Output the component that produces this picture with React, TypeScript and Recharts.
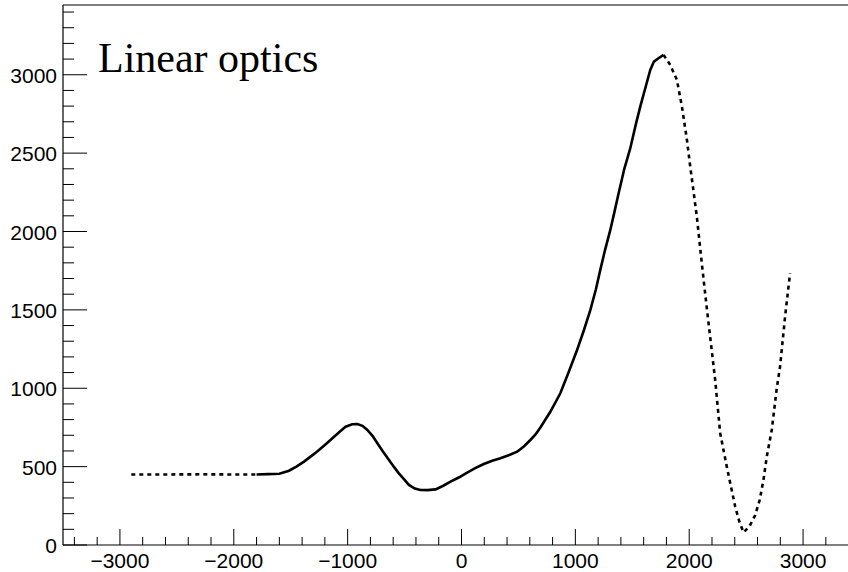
import React from "react";
import { LineChart, Line, XAxis, YAxis } from "recharts";

// curve (x, y)
const leftDotted = [
    { x: -2900, y: 450 },
    { x: -2600, y: 450 },
    { x: -2300, y: 451 },
    { x: -2000, y: 450 },
    { x: -1800, y: 450 },
];

const solidPart = [
    { x: -1800, y: 450 },
    { x: -1700, y: 452 },
    { x: -1600, y: 455 },
    { x: -1515, y: 474 },
    { x: -1450, y: 500 },
    { x: -1383, y: 532 },
    { x: -1300, y: 578 },
    { x: -1252, y: 606 },
    { x: -1190, y: 645 },
    { x: -1134, y: 681 },
    { x: -1070, y: 722 },
    { x: -1018, y: 755 },
    { x: -960, y: 770 },
    { x: -915, y: 772 },
    { x: -870, y: 760 },
    { x: -827, y: 734 },
    { x: -780, y: 695 },
    { x: -739, y: 649 },
    { x: -690, y: 596 },
    { x: -637, y: 542 },
    { x: -590, y: 495 },
    { x: -550, y: 457 },
    { x: -500, y: 415 },
    { x: -462, y: 383 },
    { x: -410, y: 360 },
    { x: -360, y: 351 },
    { x: -300, y: 350 },
    { x: -228, y: 355 },
    { x: -160, y: 378 },
    { x: -96, y: 404 },
    { x: -20, y: 432 },
    { x: 50, y: 461 },
    { x: 120, y: 490 },
    { x: 196, y: 517 },
    { x: 270, y: 537 },
    { x: 342, y: 553 },
    { x: 420, y: 574 },
    { x: 489, y: 595 },
    { x: 550, y: 630 },
    { x: 605, y: 670 },
    { x: 650, y: 705 },
    { x: 693, y: 750 },
    { x: 780, y: 850 },
    { x: 868, y: 968 },
    { x: 940, y: 1100 },
    { x: 1015, y: 1244 },
    { x: 1075, y: 1370 },
    { x: 1132, y: 1500 },
    { x: 1180, y: 1630 },
    { x: 1219, y: 1755 },
    { x: 1260, y: 1880 },
    { x: 1307, y: 2010 },
    { x: 1345, y: 2130 },
    { x: 1380, y: 2244 },
    { x: 1430, y: 2400 },
    { x: 1482, y: 2530 },
    { x: 1530, y: 2680 },
    { x: 1570, y: 2797 },
    { x: 1620, y: 2930 },
    { x: 1658, y: 3031 },
    { x: 1690, y: 3084 },
    { x: 1730, y: 3105 },
    { x: 1775, y: 3127 },
];

const rightDotted = [
    { x: 1775, y: 3127 },
    { x: 1833, y: 3063 },
    { x: 1892, y: 2967 },
    { x: 1936, y: 2797 },
    { x: 1980, y: 2584 },
    { x: 2009, y: 2414 },
    { x: 2067, y: 2095 },
    { x: 2110, y: 1800 },
    { x: 2150, y: 1540 },
    { x: 2190, y: 1290 },
    { x: 2228, y: 1053 },
    { x: 2272, y: 713 },
    { x: 2330, y: 500 },
    { x: 2404, y: 244 },
    { x: 2440, y: 150 },
    { x: 2477, y: 80 },
    { x: 2530, y: 120 },
    { x: 2579, y: 190 },
    { x: 2620, y: 290 },
    { x: 2652, y: 415 },
    { x: 2681, y: 563 },
    { x: 2725, y: 734 },
    { x: 2769, y: 1000 },
    { x: 2798, y: 1138 },
    { x: 2842, y: 1457 },
    { x: 2886, y: 1734 },
];

const xMajorTicks = [-3000, -2000, -1000, 0, 1000, 2000, 3000];
const yMajorTicks = [0, 500, 1000, 1500, 2000, 2500, 3000];

// minor ticks: every 200 on x, every 100 on y
const xTicks: number[] = [];
for (let v = -3400; v <= 3400; v += 200) xTicks.push(v);
const yTicks: number[] = [];
for (let v = 0; v <= 3400; v += 100) yTicks.push(v);

const labelFont = "'Liberation Sans', Arial, Helvetica, sans-serif";

const fmt = (v: number) => (v < 0 ? `\u2212${Math.abs(v)}` : `${v}`);

const XTick = (props: any) => {
    const { x, y, payload } = props;
    const major = xMajorTicks.includes(payload.value);
    return (
        <g>
            <line x1={x} y1={y} x2={x} y2={y - (major ? 16 : 8)} stroke="#000" strokeWidth={1} />
            {major && (
                <text x={x} y={y + 23} textAnchor="middle" fontSize={21} fontFamily={labelFont} fill="#000">
                    {fmt(payload.value)}
                </text>
            )}
        </g>
    );
};

const YTick = (props: any) => {
    const { x, y, payload } = props;
    const major = yMajorTicks.includes(payload.value);
    return (
        <g>
            <line x1={x} y1={y} x2={x + (major ? 24 : 11)} y2={y} stroke="#000" strokeWidth={1} />
            {major && (
                <text x={x - 6} y={y + 8} textAnchor="end" fontSize={21} fontFamily={labelFont} fill="#000">
                    {payload.value}
                </text>
            )}
        </g>
    );
};

export default function App() {
    return (
        <div
            style={{
                position: "absolute",
                left: 0,
                top: 0,
                width: 848,
                height: 572,
                overflow: "hidden",
                background: "#fff",
            }}
        >
            <LineChart
                width={900}
                height={572}
                margin={{ top: 4, right: 40, left: 3, bottom: 0 }}
            >
                <XAxis
                    type="number"
                    dataKey="x"
                    domain={[-3500, 3500]}
                    ticks={xTicks}
                    interval={0}
                    allowDataOverflow
                    height={27}
                    tickSize={0}
                    tickMargin={0}
                    tickLine={false}
                    axisLine={{ stroke: "#000", strokeWidth: 1.2 }}
                    tick={<XTick />}
                />
                <XAxis
                    xAxisId="top"
                    orientation="top"
                    type="number"
                    domain={[-3500, 3500]}
                    height={1}
                    tick={false}
                    tickLine={false}
                    axisLine={{ stroke: "#000", strokeWidth: 1.2 }}
                />
                <YAxis
                    type="number"
                    dataKey="y"
                    domain={[0, 3445]}
                    ticks={yTicks}
                    interval={0}
                    allowDataOverflow
                    width={60}
                    tickSize={0}
                    tickMargin={0}
                    tickLine={false}
                    axisLine={{ stroke: "#000", strokeWidth: 1.2 }}
                    tick={<YTick />}
                />
                <Line
                    data={leftDotted}
                    dataKey="y"
                    type="linear"
                    stroke="#000"
                    strokeWidth={2.6}
                    strokeDasharray="4 4"
                    dot={false}
                    isAnimationActive={false}
                />
                <Line
                    data={solidPart}
                    dataKey="y"
                    type="linear"
                    stroke="#000"
                    strokeWidth={2.6}
                    dot={false}
                    isAnimationActive={false}
                />
                <Line
                    data={rightDotted}
                    dataKey="y"
                    type="linear"
                    stroke="#000"
                    strokeWidth={2.6}
                    strokeDasharray="4 4"
                    dot={false}
                    isAnimationActive={false}
                />
            </LineChart>
            <svg
                width={848}
                height={572}
                style={{ position: "absolute", left: 0, top: 0, pointerEvents: "none" }}
            >
                <text x={98} y={72} fontSize={42} fontFamily="'Liberation Serif', 'Times New Roman', serif" fill="#000">
                    Linear optics
                </text>
            </svg>
        </div>
    );
}
